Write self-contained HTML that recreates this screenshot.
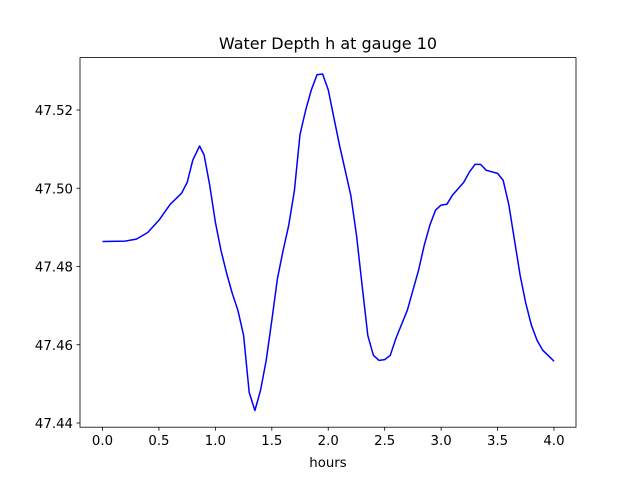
<!DOCTYPE html>
<html><head><meta charset="utf-8"><style>
body{margin:0;background:#fff;}
svg text{font-family:"DejaVu Sans","Liberation Sans",sans-serif;fill:#000;}
</style></head><body>
<svg id="chart" width="640" height="480" viewBox="0 0 640 480" xmlns="http://www.w3.org/2000/svg">
<rect width="640" height="480" fill="#fff"/>
<text x="328" y="49" font-size="16" text-anchor="middle">Water Depth h at gauge 10</text>
<text x="328" y="467" font-size="13.3" text-anchor="middle">hours</text>
<g id="ticks"></g>
<polyline id="series" fill="none" stroke="#0000ff" stroke-width="1.5" stroke-linejoin="round"/>
<rect x="80" y="57.6" width="496" height="369.6" fill="none" stroke="#000" stroke-width="0.8"/>
</svg>
<script>
const hours=[0,0.2,0.3,0.4,0.5,0.6,0.7,0.75,0.8,0.86,0.9,0.95,1.0,1.05,1.1,1.15,1.2,1.25,1.3,1.35,1.4,1.45,1.5,1.55,1.6,1.65,1.7,1.75,1.8,1.85,1.9,1.95,2.0,2.05,2.1,2.2,2.25,2.3,2.35,2.4,2.45,2.5,2.55,2.6,2.7,2.8,2.85,2.9,2.95,3.0,3.05,3.1,3.2,3.25,3.3,3.35,3.4,3.5,3.55,3.6,3.65,3.7,3.75,3.8,3.85,3.9,4.0];
const depth=[47.4864,47.4865,47.487,47.4887,47.4918,47.4959,47.4987,47.5015,47.5072,47.5108,47.5085,47.5008,47.4913,47.4841,47.4782,47.4731,47.4688,47.4624,47.4478,47.4432,47.4483,47.456,47.4662,47.477,47.4841,47.4905,47.4994,47.5137,47.52,47.5251,47.529,47.5292,47.5251,47.518,47.511,47.4982,47.488,47.4752,47.4624,47.4573,47.456,47.4562,47.4573,47.4617,47.4688,47.479,47.4854,47.4905,47.4944,47.4957,47.4959,47.4982,47.5015,47.5041,47.5061,47.5061,47.5046,47.5038,47.502,47.4957,47.4867,47.4778,47.4706,47.465,47.4611,47.4586,47.4558];
const xTicks=[0,0.5,1,1.5,2,2.5,3,3.5,4];
const xTickLabels=["0.0","0.5","1.0","1.5","2.0","2.5","3.0","3.5","4.0"];
const yTicks=[47.44,47.46,47.48,47.50,47.52];
const yTickLabels=["47.44","47.46","47.48","47.50","47.52"];
const X=v=>102.5+(v-0)*(554-102.5)/4;
const Y=v=>423-(v-47.44)*(423-110)/0.08;
const NS="http://www.w3.org/2000/svg";
const g=document.getElementById('ticks');
function mk(t,a){const e=document.createElementNS(NS,t);for(const k in a)e.setAttribute(k,a[k]);g.appendChild(e);return e;}
xTicks.forEach((v,i)=>{
  const l=mk('line',{x1:X(v),x2:X(v),y1:427.2,y2:430.7,stroke:'#000','stroke-width':0.8});
  
  
  const t=mk('text',{x:X(v),y:445,'font-size':13.3,'text-anchor':'middle'});
  t.textContent=xTickLabels[i];
  
  
});
yTicks.forEach((v,i)=>{
  const l=mk('line',{x1:76.5,x2:80,y1:Y(v),y2:Y(v),stroke:'#000','stroke-width':0.8});
  
  
  const t=mk('text',{x:73,y:Y(v)+5,'font-size':13.3,'text-anchor':'end'});
  t.textContent=yTickLabels[i];
  
  
});
document.getElementById('series').setAttribute('points',hours.map((h,i)=>X(h).toFixed(1)+','+Y(depth[i]).toFixed(1)).join(' '));
</script>
</body></html>
